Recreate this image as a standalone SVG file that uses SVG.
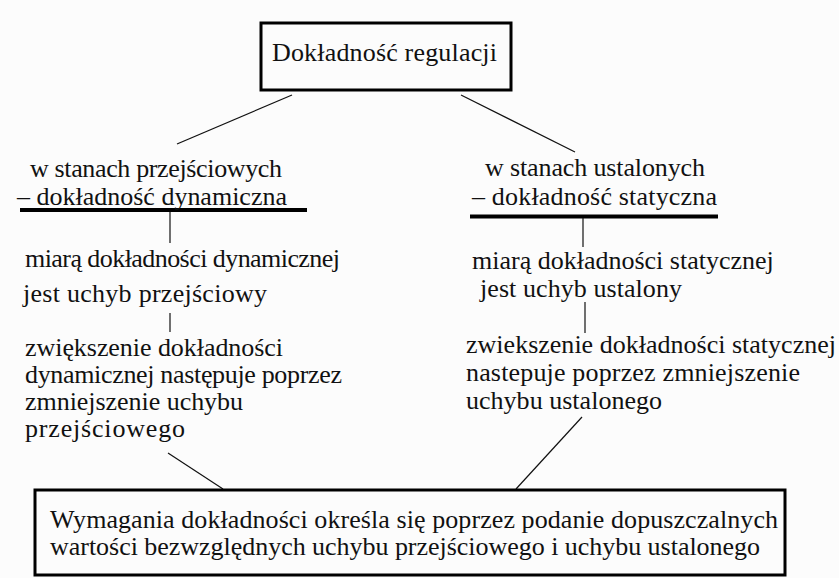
<svg xmlns="http://www.w3.org/2000/svg" width="839" height="578" viewBox="0 0 839 578">
<style>
text { font-family: "Liberation Serif", "Times New Roman", serif; font-size: 26px; fill: #111; }
.box { fill: none; stroke: #000; stroke-width: 3; }
.thin { stroke: #111; stroke-width: 1.2; fill: none; }
.bar { stroke: #000; stroke-width: 4; }
</style>
<rect width="839" height="578" fill="#fcfcfc"/>
<g id="connectors">
<line class="thin" x1="292" y1="95" x2="177" y2="144"/>
<line class="thin" x1="461" y1="95" x2="575" y2="152"/>
<line class="bar" x1="20" y1="210" x2="307" y2="210"/>
<line class="bar" x1="470" y1="216.5" x2="718" y2="216.5"/>
<line class="thin" x1="170" y1="212" x2="170" y2="243"/>
<line class="thin" x1="583" y1="218" x2="583" y2="247"/>
<line class="thin" x1="170" y1="313" x2="170" y2="332"/>
<line class="thin" x1="585" y1="302" x2="585" y2="333"/>
<line class="thin" x1="168" y1="453" x2="223" y2="489"/>
<line class="thin" x1="582" y1="417" x2="516" y2="489"/>
</g>
<g id="top">
<rect class="box" x="261" y="23" width="250" height="67"/>
<text x="272" y="61" textLength="225">Dokładność regulacji</text>
</g>
<g id="dynamic">
<text x="30" y="177" textLength="252">w stanach przejściowych</text>
<text x="17" y="205" textLength="270">– dokładność dynamiczna</text>
</g>
<g id="static">
<text x="485" y="176" textLength="220">w stanach ustalonych</text>
<text x="472" y="205" textLength="245">– dokładność statyczna</text>
</g>
<g id="dyn-measure">
<text x="25" y="267" textLength="315">miarą dokładności dynamicznej</text>
<text x="23" y="302" textLength="244">jest uchyb przejściowy</text>
</g>
<g id="stat-measure">
<text x="472" y="269">miarą dokładności statycznej</text>
<text x="480" y="297" textLength="202">jest uchyb ustalony</text>
</g>
<g id="dyn-increase">
<text x="25" y="356" textLength="258">zwiększenie dokładności</text>
<text x="25" y="383" textLength="317">dynamicznej następuje poprzez</text>
<text x="25" y="410" textLength="218">zmniejszenie uchybu</text>
<text x="25" y="437" textLength="160">przejściowego</text>
</g>
<g id="stat-increase">
<text x="466" y="353" textLength="370">zwiekszenie dokładności statycznej</text>
<text x="466" y="381" textLength="334">nastepuje poprzez zmniejszenie</text>
<text x="466" y="409" textLength="196">uchybu ustalonego</text>
</g>
<g id="requirements">
<rect class="box" x="35" y="490" width="750" height="85"/>
<text x="50" y="528" textLength="728">Wymagania dokładności określa się poprzez podanie dopuszczalnych</text>
<text x="50" y="555" textLength="710">wartości bezwzględnych uchybu przejściowego i uchybu ustalonego</text>
</g>
</svg>
